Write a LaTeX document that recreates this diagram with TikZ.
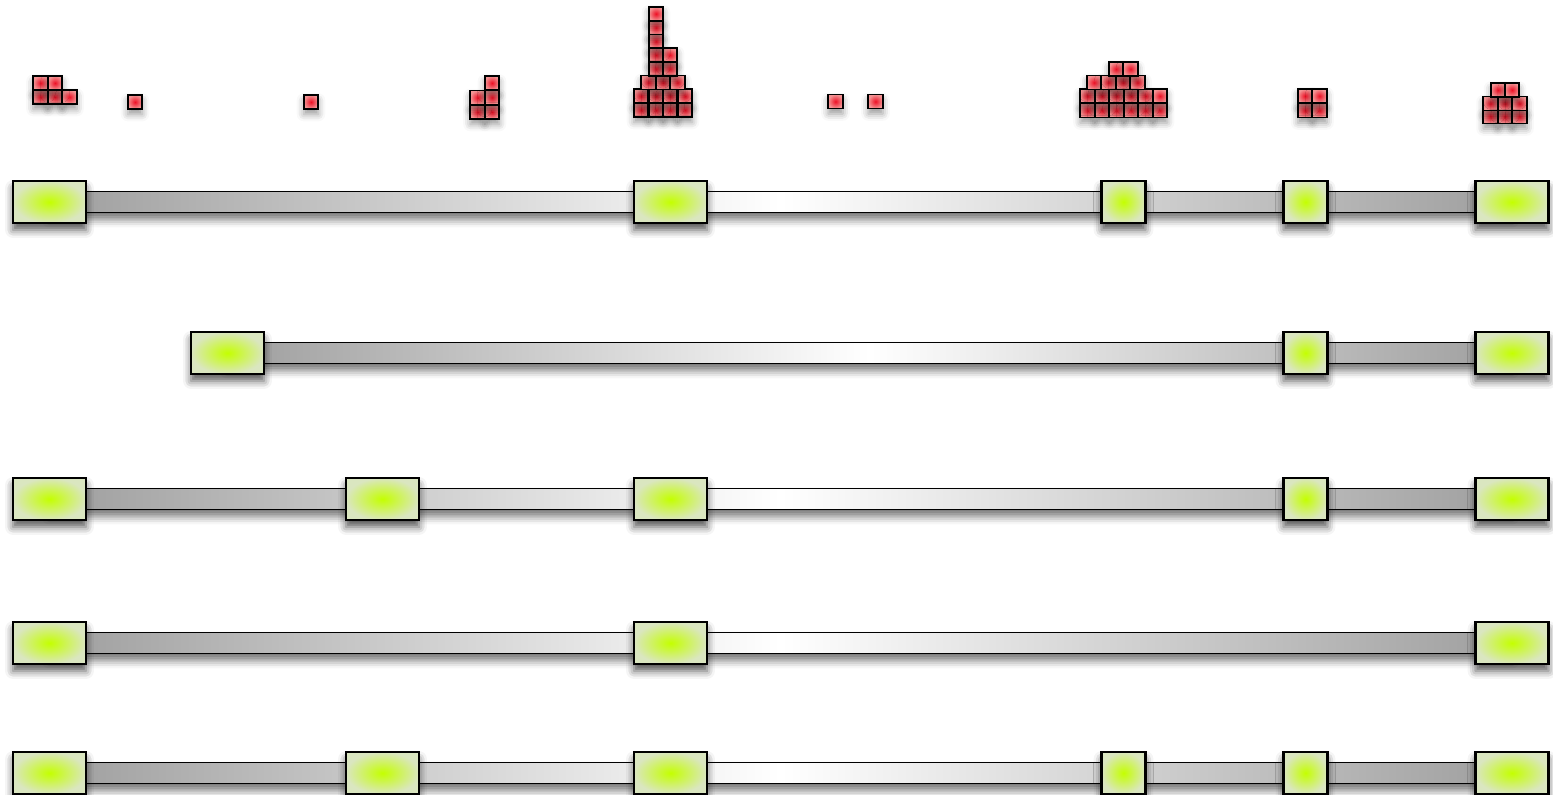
\documentclass[tikz,border=0pt]{standalone}
\usetikzlibrary{shadows.blur,backgrounds}
\definecolor{exonin}{HTML}{C4FF00}
\definecolor{exonout}{HTML}{DAE6C0}
\definecolor{readin}{HTML}{EE1025}
\definecolor{readout}{HTML}{F29494}
\begin{document}
\begin{tikzpicture}[x=0.02cm, y=-0.02cm,
  exon/.style={draw=black, line width=1.2pt, inner sep=0pt, inner color=exonin, outer color=exonout,
    minimum height=0.84cm, blur shadow={shadow xshift=0pt, shadow yshift=-4pt, shadow blur radius=4.5pt, shadow opacity=65}},
  exw/.style={minimum width=1.46cm},
  exn/.style={minimum width=0.88cm},
  bar/.style={draw=black, line width=1.1pt, left color=black!38, right color=black!38, middle color=white,
    blur shadow={shadow xshift=0pt, shadow yshift=-4pt, shadow blur radius=4.5pt, shadow opacity=55}},
  rd/.style={draw=black, line width=1pt, inner sep=0pt, inner color=readin, outer color=readout,
    minimum width=0.29cm, minimum height=0.28cm, blur shadow={shadow xshift=0pt, shadow yshift=-3pt, shadow blur radius=4pt, shadow opacity=40}},
]
  \useasboundingbox (0,0) rectangle (1553,795);

  % reads stacked over the exons, top row of the picture
  \foreach \x/\y [count=\i] in {40.5/97,55/97,69.5/97,40.5/83,55/83, 135/102, 311/102,
      477.5/112,492/112,477.5/97.5,492/97.5,492/83,
      641/110,656/110,670/110,685/110,641/96.25,656/96.25,670/96.25,685/96.25,
      648.5/82.5,663/82.5,677.5/82.5,656/68.75,670/68.75,656/55,670/55,656/41.25,656/27.5,656/13.75,
      835.5/101.5, 875.5/101.5,
      1087.5/110.5,1102/110.5,1116.5/110.5,1131/110.5,1145.5/110.5,1160/110.5,
      1087.5/96,1102/96,1116.5/96,1131/96,1145.5/96,1160/96,
      1094/82.5,1108.5/82.5,1123/82.5,1137.5/82.5,1116/69,1130.5/69,
      1305/110.5,1319.5/110.5,1305/96,1319.5/96,
      1490.5/116.5,1505/116.5,1519.5/116.5,1490.5/103.5,1505/103.5,1519.5/103.5,1498/90,1512/90}
    \node[rd] (r\i) at (\x,\y) {};

  % isoform 1
  \foreach \x/\w [count=\i] in {49.5/exw,670.5/exw,1123.5/exn,1305.5/exn,1512/exw}
    \node[exon,\w] (a\i) at (\x,202) {};
  % isoform 2
  \foreach \x/\w [count=\i] in {227.5/exw,1305.5/exn,1512/exw}
    \node[exon,\w] (b\i) at (\x,353) {};
  % isoform 3
  \foreach \x/\w [count=\i] in {49.5/exw,382.5/exw,670.5/exw,1305.5/exn,1512/exw}
    \node[exon,\w] (c\i) at (\x,499) {};
  % isoform 4
  \foreach \x/\w [count=\i] in {49.5/exw,670.5/exw,1512/exw}
    \node[exon,\w] (d\i) at (\x,643) {};
  % isoform 5: all six exons
  \foreach \x/\w [count=\i] in {49.5/exw,382.5/exw,670.5/exw,1123.5/exn,1305.5/exn,1512/exw}
    \node[exon,\w] (e\i) at (\x,773) {};

  % introns: one bar behind each row
  \begin{scope}[on background layer]
    \path[bar] ([yshift=-0.21cm]a1.center) rectangle ([yshift=0.21cm]a5.center);
    \path[bar] ([yshift=-0.21cm]b1.center) rectangle ([yshift=0.21cm]b3.center);
    \path[bar] ([yshift=-0.21cm]c1.center) rectangle ([yshift=0.21cm]c5.center);
    \path[bar] ([yshift=-0.21cm]d1.center) rectangle ([yshift=0.21cm]d3.center);
    \path[bar] ([yshift=-0.21cm]e1.center) rectangle ([yshift=0.21cm]e6.center);
  \end{scope}
\end{tikzpicture}
\end{document}
